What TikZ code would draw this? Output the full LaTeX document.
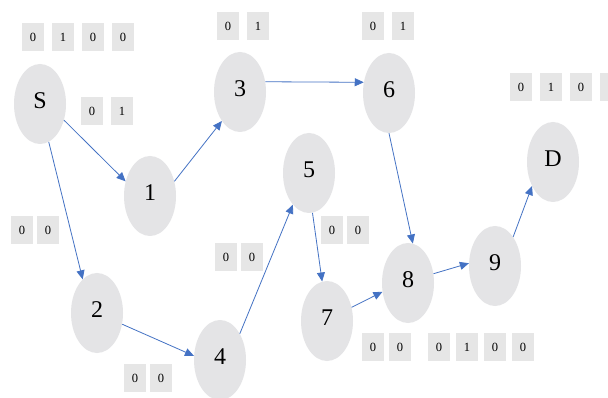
\documentclass[tikz,border=0pt]{standalone}
\usepackage{fontspec}
\setmainfont{Liberation Serif}
\usetikzlibrary{arrows.meta,shapes.geometric}
\definecolor{knotgray}{HTML}{E4E4E6}
\definecolor{cellgray}{HTML}{E6E6E6}
\definecolor{linkblue}{HTML}{4472C4}
\tikzset{
  knot/.style={ellipse,fill=knotgray,minimum width=52pt,minimum height=80pt,
    inner sep=0pt,text depth=6pt,font=\fontsize{24}{26}\selectfont},
  cella/.style={rectangle,fill=cellgray,minimum width=22pt,minimum height=28pt,
    inner sep=0pt,font=\fontsize{12.5}{14}\selectfont},
  link/.style={draw=linkblue,line width=0.8pt,-{Triangle[length=9pt,width=8pt]}},
}

\begin{document}
\begin{tikzpicture}[x=1pt,y=-1pt]
  \fill[white] (0,0) rectangle (608,398);
  \useasboundingbox (0,0) rectangle (608,398);
  % vertices
  \node[knot] (S)  at (40,104)  {S};
  \node[knot] (n1) at (150,196) {1};
  \node[knot] (n2) at (97,313)  {2};
  \node[knot] (n3) at (240,92)  {3};
  \node[knot] (n4) at (220,360) {4};
  \node[knot] (n5) at (309,173) {5};
  \node[knot] (n6) at (389,93)  {6};
  \node[knot] (n7) at (327,321) {7};
  \node[knot] (n8) at (408,283) {8};
  \node[knot] (n9) at (495,266) {9};
  \node[knot] (D)  at (553,162) {D};
  % bit cells
  \foreach \v [count=\i] in {0,1,0,0}
    \node[cella] (cS-\i) at ({33+30*(\i-1)},37) {\v};
  \foreach \v [count=\i] in {0,1}
    \node[cella] (c1-\i) at ({92+30*(\i-1)},111) {\v};
  \foreach \v [count=\i] in {0,1}
    \node[cella] (c3-\i) at ({228+30*(\i-1)},26) {\v};
  \foreach \v [count=\i] in {0,1}
    \node[cella] (c6-\i) at ({373+30*(\i-1)},26) {\v};
  \foreach \v [count=\i] in {0,1,0,{}}
    \node[cella] (cD-\i) at ({521+30*(\i-1)},87) {\v};
  \foreach \v [count=\i] in {0,0}
    \node[cella] (c2-\i) at ({22+26*(\i-1)},230) {\v};
  \foreach \v [count=\i] in {0,0}
    \node[cella] (c4-\i) at ({135+26*(\i-1)},378) {\v};
  \foreach \v [count=\i] in {0,0}
    \node[cella] (c5-\i) at ({226+26*(\i-1)},257) {\v};
  \foreach \v [count=\i] in {0,0}
    \node[cella] (c7-\i) at ({332+26*(\i-1)},230) {\v};
  \foreach \v [count=\i] in {0,0}
    \node[cella] (c8-\i) at ({373+27*(\i-1)},347) {\v};
  \foreach \v [count=\i] in {0,1,0,0}
    \node[cella] (c9-\i) at ({439+28*(\i-1)},347) {\v};
  % edges
  \draw[link] (S.-34) -- (n1.149);
  \draw[link] (n1.31) -- (n3.238);
  \draw[link] (n3.22) -- (n6.157);
  \draw[link] (S.-77) -- (n2.113);
  \draw[link] (n2.-24) -- (n4.171);
  \draw[link] (n4.53) -- (n5.243);
  \draw[link] (n5.-85) -- (n7.97);
  \draw[link] (n7.29) -- (n8.199);
  \draw[link] (n6.-90) -- (n8.83);
  \draw[link] (n8.20) -- (n9.174);
  \draw[link] (n9.58) -- (D.229);
\end{tikzpicture}
\end{document}
